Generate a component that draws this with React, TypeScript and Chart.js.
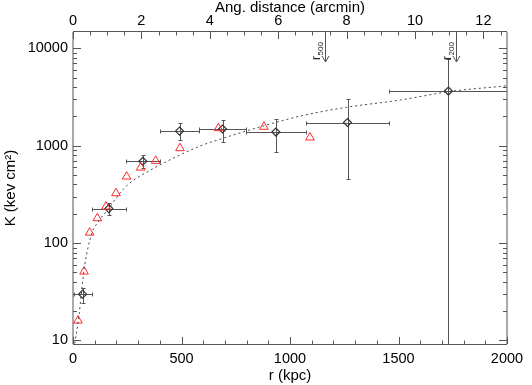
import React, { useEffect, useRef } from 'react';
import { Chart, registerables } from 'chart.js';
Chart.register(...registerables);

// Axis ranges and ticks
const X_MIN = 0;
const X_MAX = 2000;
const ARCMIN_MAX = 12.69;
const Y_MIN = 9.2;
const Y_MAX = 14700;
const X_TICKS = [0, 500, 1000, 1500, 2000];
const TOP_TICKS = [0, 2, 4, 6, 8, 10, 12];
const Y_TICKS = [10, 100, 1000, 10000];

// Binned entropy profile (diamonds with error bars)
const BIN_R = [44, 165, 322, 491, 689, 935, 1265, 1730];
const BIN_R_LO = [3, 86, 244, 400, 581, 797, 1074, 1456];
const BIN_R_HI = [86, 244, 400, 581, 797, 1074, 1456, 2004];
const BIN_K = [29.9, 226, 692, 1413, 1483, 1381, 1730, 3640];
const BIN_K_LO = [24.1, 195, 586, 1151, 1079, 859, 454, 1];
const BIN_K_HI = [34.9, 261, 806, 1706, 1845, 1875, 3013, 7760];

// Comparison profile (red triangles)
const TRI_R = [23, 51, 77, 112, 152, 198, 247, 312, 381, 493, 670, 880, 1092];
const TRI_K = [16, 51, 128, 180, 237, 325, 482, 596, 699, 943, 1511, 1563, 1214];

// Model (dotted curve)
const MODEL_R = [8, 29, 38, 55, 86, 120, 163, 224, 278, 347, 401, 447, 531, 600, 700, 785, 862, 1046, 1261, 1507, 1737, 2000];
const MODEL_K = [9.3, 19, 30, 61, 124, 170, 224, 342, 440, 545, 635, 715, 880, 1020, 1210, 1385, 1560, 2010, 2480, 2940, 3600, 4120];

// Characteristic radii (arcmin)
const R500_ARCMIN = 7.36;
const R200_ARCMIN = 11.19;

const FONT = 'Liberation Sans, Arial, Helvetica, sans-serif';

const decoPlugin = {
  id: 'deco',
  beforeDatasetsDraw(chart: any) {
    const { ctx, chartArea: a, scales } = chart;
    const x = scales.x, y = scales.y;
    ctx.save();
    ctx.beginPath();
    ctx.rect(a.left, a.top, a.right - a.left, a.bottom - a.top);
    ctx.clip();
    ctx.strokeStyle = '#555';
    ctx.lineWidth = 1;
    const line = (x0: number, y0: number, x1: number, y1: number) => {
      ctx.beginPath();
      ctx.moveTo(x0, y0);
      ctx.lineTo(x1, y1);
      ctx.stroke();
    };
    for (let i = 0; i < BIN_R.length; i++) {
      const px = Math.round(x.getPixelForValue(BIN_R[i])) + 0.5;
      const py = Math.round(y.getPixelForValue(BIN_K[i])) + 0.5;
      const x0 = Math.round(x.getPixelForValue(BIN_R_LO[i])) + 0.5;
      const x1 = Math.round(x.getPixelForValue(BIN_R_HI[i])) + 0.5;
      const y0 = Math.round(y.getPixelForValue(BIN_K_LO[i])) + 0.5;
      const y1 = Math.round(y.getPixelForValue(BIN_K_HI[i])) + 0.5;
      line(x0, py, x1, py);
      line(x0, py - 2, x0, py + 2);
      line(x1, py - 2, x1, py + 2);
      line(px, y0, px, y1);
      line(px - 2, y0, px + 2, y0);
      line(px - 2, y1, px + 2, y1);
    }
    ctx.restore();
  },
  afterDraw(chart: any) {
    const { ctx, chartArea: a, scales } = chart;
    const x = scales.x, y = scales.y, x2 = scales.x2;
    ctx.save();
    ctx.strokeStyle = '#555';
    ctx.lineWidth = 1;
    const line = (x0: number, y0: number, x1: number, y1: number) => {
      ctx.beginPath();
      ctx.moveTo(x0, y0);
      ctx.lineTo(x1, y1);
      ctx.stroke();
    };
    // frame
    line(a.left, a.top, a.left, a.bottom);
    line(a.right, a.top, a.right, a.bottom);
    line(a.left, Math.round(a.bottom) + 0.5, a.right, Math.round(a.bottom) + 0.5);
    line(a.left, Math.round(a.top) - 0.5, a.right, Math.round(a.top) - 0.5);
    // bottom ticks
    for (let v = X_MIN; v <= X_MAX; v += 100) {
      const px = Math.round(x.getPixelForValue(v)) + 0.5;
      const len = v % 500 === 0 ? 7 : 3.5;
      line(px, a.bottom, px, a.bottom - len);
    }
    // top ticks
    for (let v = 0; v <= ARCMIN_MAX; v += 0.5) {
      const px = Math.round(x2.getPixelForValue(v)) + 0.5;
      const len = v % 2 === 0 ? 7 : 3.5;
      line(px, a.top, px, a.top + len);
    }
    // left/right ticks
    for (let d = 1; d <= 10000; d *= 10) {
      for (let m = 1; m <= 9; m++) {
        const v = d * m;
        if (v < Y_MIN || v > Y_MAX) continue;
        const py = Math.round(y.getPixelForValue(v)) + 0.5;
        const len = m === 1 ? 8 : 4;
        line(a.left, py, a.left + len, py);
        line(a.right, py, a.right - len, py);
      }
    }
    // r500 / r200 arrows
    const arrows: [number, string][] = [[R500_ARCMIN, '500'], [R200_ARCMIN, '200']];
    for (const [am, sub] of arrows) {
      const xa = Math.round(x2.getPixelForValue(am)) + 0.5;
      const tip = a.top + 30;
      line(xa, a.top, xa, tip);
      ctx.beginPath();
      ctx.moveTo(xa - 3.5, tip - 6);
      ctx.lineTo(xa, tip);
      ctx.lineTo(xa + 3.5, tip - 6);
      ctx.stroke();
      ctx.save();
      ctx.fillStyle = '#222';
      ctx.translate(xa - 6, a.top + 28);
      ctx.rotate(-Math.PI / 2);
      ctx.font = '12px ' + FONT;
      ctx.textBaseline = 'alphabetic';
      ctx.fillText('r', 0, 0);
      const w = ctx.measureText('r').width;
      ctx.font = '8px ' + FONT;
      ctx.fillText(sub, w + 0.5, 3.5);
      ctx.restore();
    }
    ctx.restore();
  },
};

export default function App() {
  const ref = useRef<HTMLCanvasElement | null>(null);
  useEffect(() => {
    if (!ref.current) return;
    const chart = new Chart(ref.current, {
      type: 'scatter',
      data: {
        datasets: [
          {
            label: 'model',
            data: MODEL_R.map((r, i) => ({ x: r, y: MODEL_K[i] })),
            showLine: true,
            borderColor: '#444',
            borderWidth: 1,
            borderDash: [2, 3],
            pointRadius: 0,
            cubicInterpolationMode: 'monotone',
            xAxisID: 'x',
            yAxisID: 'y',
          } as any,
          {
            label: 'triangles',
            data: TRI_R.map((r, i) => ({ x: r, y: TRI_K[i] })),
            pointStyle: 'triangle',
            pointRadius: 5,
            borderColor: 'rgb(255,40,40)',
            backgroundColor: 'rgba(0,0,0,0)',
            borderWidth: 1,
            xAxisID: 'x',
            yAxisID: 'y',
          },
          {
            label: 'bins',
            data: BIN_R.map((r, i) => ({ x: r, y: BIN_K[i] })),
            pointStyle: 'rectRot',
            pointRadius: 4,
            borderColor: '#333',
            backgroundColor: 'rgba(0,0,0,0)',
            borderWidth: 1.2,
            xAxisID: 'x',
            yAxisID: 'y',
          },
        ],
      },
      options: {
        responsive: false,
        maintainAspectRatio: false,
        animation: false,
        devicePixelRatio: 1,
        layout: { padding: { left: 0, right: 25, top: 0, bottom: 0 }, autoPadding: false },
        plugins: { legend: { display: false }, tooltip: { enabled: false } },
        events: [],
        scales: {
          x: {
            type: 'linear',
            position: 'bottom',
            min: X_MIN,
            max: X_MAX,
            afterBuildTicks: (s: any) => { s.ticks = X_TICKS.map((v) => ({ value: v })); },
            afterFit: (s: any) => { s.height = 41; },
            grid: { display: false, drawTicks: false },
            border: { display: false },
            ticks: { font: { size: 14.5, family: FONT }, color: '#000', padding: 6, maxRotation: 0, autoSkip: false, callback: (v: any) => String(v) },
            title: { display: true, text: 'r (kpc)', font: { size: 15, family: FONT }, color: '#000', padding: { top: 0, bottom: 0 } },
          },
          x2: {
            type: 'linear',
            position: 'top',
            min: 0,
            max: ARCMIN_MAX,
            afterBuildTicks: (s: any) => { s.ticks = TOP_TICKS.map((v) => ({ value: v })); },
            afterFit: (s: any) => { s.height = 32; },
            grid: { display: false, drawTicks: false },
            border: { display: false },
            ticks: { font: { size: 14.5, family: FONT }, color: '#000', padding: 2, maxRotation: 0, autoSkip: false, callback: (v: any) => String(v) },
            title: { display: true, text: 'Ang. distance (arcmin)', font: { size: 15, family: FONT }, color: '#000', padding: { top: -1, bottom: 0 } },
          },
          y: {
            type: 'logarithmic',
            position: 'left',
            min: Y_MIN,
            max: Y_MAX,
            afterBuildTicks: (s: any) => { s.ticks = Y_TICKS.map((v) => ({ value: v })); },
            afterFit: (s: any) => { s.width = 73; },
            grid: { display: false, drawTicks: false },
            border: { display: false },
            ticks: { font: { size: 14.5, family: FONT }, color: '#000', padding: 5, autoSkip: false, callback: (v: any) => String(v) },
            title: { display: true, text: 'K (kev cm²)', font: { size: 15, family: FONT }, color: '#000', padding: { top: 2, bottom: 0 } },
          },
        },
      } as any,
      plugins: [decoPlugin],
    });
    return () => chart.destroy();
  }, []);
  return (
    <div style={{ position: 'absolute', left: 0, top: 0, width: 532, height: 385, background: '#fff' }}>
      <canvas ref={ref} width={532} height={385} style={{ width: 532, height: 385, display: 'block' }} />
    </div>
  );
}
